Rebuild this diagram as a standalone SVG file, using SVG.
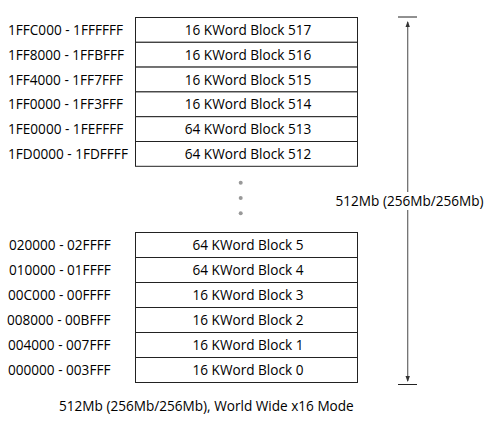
<svg xmlns="http://www.w3.org/2000/svg" width="490" height="423" viewBox="0 0 490 423">
<style>
.box{fill:#fff;stroke:#222;stroke-width:1}
.t{font-family:"Open Sans","Noto Sans",sans-serif;font-size:13.6px;fill:#000}
.c{text-anchor:middle}
.dot{fill:#999}
</style>
<defs>
<marker id="ah" markerWidth="6" markerHeight="8" refX="5" refY="3" orient="auto" markerUnits="userSpaceOnUse" viewBox="0 0 6 6">
<path d="M0,0.8 L6,3 L0,5.2 z" fill="#333"/>
</marker>
</defs>
<rect width="490" height="423" fill="#fff"/>
<g id="block517"><rect class="box" x="135.5" y="17.5" width="222" height="24.8"/><text class="t c" x="248" y="35">16 KWord Block 517</text><text class="t" x="8" y="35">1FFC000 - 1FFFFFF</text></g>
<g id="block516"><rect class="box" x="135.5" y="42.3" width="222" height="24.8"/><text class="t c" x="248" y="59.8">16 KWord Block 516</text><text class="t" x="8" y="59.8">1FF8000 - 1FFBFFF</text></g>
<g id="block515"><rect class="box" x="135.5" y="67.1" width="222" height="24.8"/><text class="t c" x="248" y="84.6">16 KWord Block 515</text><text class="t" x="8" y="84.6">1FF4000 - 1FF7FFF</text></g>
<g id="block514"><rect class="box" x="135.5" y="91.9" width="222" height="24.8"/><text class="t c" x="248" y="109.4">16 KWord Block 514</text><text class="t" x="8" y="109.4">1FF0000 - 1FF3FFF</text></g>
<g id="block513"><rect class="box" x="135.5" y="116.7" width="222" height="24.8"/><text class="t c" x="248" y="134.2">64 KWord Block 513</text><text class="t" x="8" y="134.2">1FE0000 - 1FEFFFF</text></g>
<g id="block512"><rect class="box" x="135.5" y="141.5" width="222" height="24.8"/><text class="t c" x="248" y="159">64 KWord Block 512</text><text class="t" x="8" y="159">1FD0000 - 1FDFFFF</text></g>
<g id="ellipsis"><circle class="dot" cx="240.7" cy="182.7" r="2"/><circle class="dot" cx="240.7" cy="198" r="2"/><circle class="dot" cx="240.7" cy="213.3" r="2"/></g>
<g id="block5"><rect class="box" x="135.5" y="232.5" width="222" height="25"/><text class="t c" x="248" y="250">64 KWord Block 5</text><text class="t" x="9" y="250">020000 - 02FFFF</text></g>
<g id="block4"><rect class="box" x="135.5" y="257.5" width="222" height="25"/><text class="t c" x="248" y="275">64 KWord Block 4</text><text class="t" x="9" y="275">010000 - 01FFFF</text></g>
<g id="block3"><rect class="box" x="135.5" y="282.5" width="222" height="25"/><text class="t c" x="248" y="300">16 KWord Block 3</text><text class="t" x="8" y="300">00C000 - 00FFFF</text></g>
<g id="block2"><rect class="box" x="135.5" y="307.5" width="222" height="25"/><text class="t c" x="248" y="325">16 KWord Block 2</text><text class="t" x="7" y="325">008000 - 00BFFF</text></g>
<g id="block1"><rect class="box" x="135.5" y="332.5" width="222" height="25"/><text class="t c" x="248" y="350">16 KWord Block 1</text><text class="t" x="8" y="350">004000 - 007FFF</text></g>
<g id="block0"><rect class="box" x="135.5" y="357.5" width="222" height="25"/><text class="t c" x="248" y="375">16 KWord Block 0</text><text class="t" x="8" y="375">000000 - 003FFF</text></g>
<g id="connectors">
<line x1="398" y1="17" x2="417" y2="17" stroke="#222" stroke-width="1"/>
<line x1="398" y1="384.5" x2="417" y2="384.5" stroke="#222" stroke-width="1"/>
<line x1="407.7" y1="200" x2="407.7" y2="22" stroke="#666" stroke-width="1.2" marker-end="url(#ah)"/>
<line x1="407.7" y1="200" x2="407.7" y2="381" stroke="#666" stroke-width="1.2" marker-end="url(#ah)"/>
</g>
<g id="size-label"><rect x="334" y="192" width="152" height="18" fill="#fff"/><text class="t" x="335.5" y="206">512Mb (256Mb/256Mb)</text></g>
<g id="caption"><text class="t" x="59" y="410.5">512Mb (256Mb/256Mb), World Wide x16 Mode</text></g>
</svg>
